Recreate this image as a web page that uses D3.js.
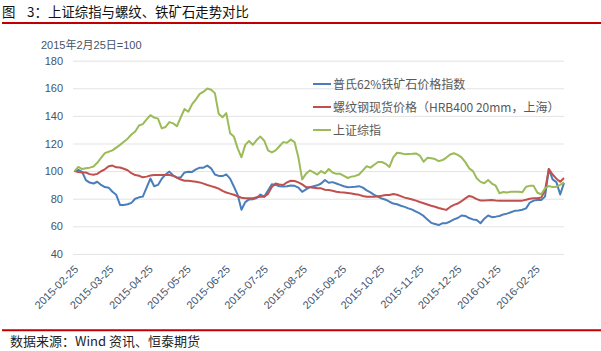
<!DOCTYPE html>
<html><head><meta charset="utf-8">
<script src="https://cdn.jsdelivr.net/npm/d3@7/dist/d3.min.js"></script>
<style>body{margin:0;background:#fff}svg{display:block}</style>
</head><body>
<svg id="c" width="601" height="351"></svg>
<script>
// ---- data ----
const dates = ["2015-02-25","2015-02-28","2015-03-03","2015-03-06","2015-03-09","2015-03-12","2015-03-15","2015-03-18","2015-03-21","2015-03-24","2015-03-27","2015-03-30","2015-04-02","2015-04-05","2015-04-08","2015-04-11","2015-04-14","2015-04-17","2015-04-20","2015-04-23","2015-04-26","2015-04-29","2015-05-02","2015-05-05","2015-05-08","2015-05-11","2015-05-14","2015-05-17","2015-05-20","2015-05-23","2015-05-26","2015-05-29","2015-06-01","2015-06-04","2015-06-07","2015-06-10","2015-06-13","2015-06-16","2015-06-19","2015-06-22","2015-06-25","2015-06-28","2015-07-01","2015-07-04","2015-07-07","2015-07-10","2015-07-13","2015-07-16","2015-07-19","2015-07-22","2015-07-25","2015-07-28","2015-07-31","2015-08-03","2015-08-06","2015-08-09","2015-08-12","2015-08-15","2015-08-18","2015-08-21","2015-08-24","2015-08-27","2015-08-30","2015-09-02","2015-09-05","2015-09-08","2015-09-11","2015-09-14","2015-09-17","2015-09-20","2015-09-23","2015-09-26","2015-09-29","2015-10-02","2015-10-05","2015-10-08","2015-10-11","2015-10-14","2015-10-17","2015-10-20","2015-10-23","2015-10-26","2015-10-29","2015-11-01","2015-11-04","2015-11-07","2015-11-10","2015-11-13","2015-11-16","2015-11-19","2015-11-22","2015-11-25","2015-11-28","2015-12-01","2015-12-04","2015-12-07","2015-12-10","2015-12-13","2015-12-16","2015-12-19","2015-12-22","2015-12-25","2015-12-28","2015-12-31","2016-01-03","2016-01-06","2016-01-09","2016-01-12","2016-01-15","2016-01-18","2016-01-21","2016-01-24","2016-01-27","2016-01-30","2016-02-02","2016-02-05","2016-02-08","2016-02-11","2016-02-14","2016-02-17","2016-02-20","2016-02-23","2016-02-26","2016-02-29","2016-03-03","2016-03-06","2016-03-09","2016-03-12","2016-03-15","2016-03-18"];

const ironOre = [100,100.8,99.5,93.5,91.7,91,92.3,90,88.4,88,85,82.8,75.5,75.5,76,77,80,81,81.5,88,
94.6,89,90,94.5,97.5,99.6,96.8,95.2,95.5,99,99.5,99.4,101.2,102.5,102.5,104,102,97.5,96.5,96.4,
97.6,94.5,88.8,82.8,72,77.5,79.5,79.6,80.5,83,81.5,86,90.5,90,89,88.9,89,89.6,89.3,88,
85,86.8,88.4,89,89.7,91,93.6,91.5,92,91,90,89,88.3,88.4,88.7,89.1,88,86,84.6,82.8,
81.3,80.1,79.3,77.8,76.5,76,74.9,74.1,73,72.1,70.7,69.3,67.5,65,62.5,61.7,60.9,62.3,62.3,63.5,
65,66,67.8,67.5,66,65,64.6,62.2,65.5,67.8,66.6,67,67.5,68.6,69.2,70.2,71.2,71.5,72,73,
77.2,78.6,79.1,79,81.5,101.5,94,92,83,91.5];

const rebar = [100,99.3,99,99,97.8,97.3,98,99.9,101.3,103.5,104,102.7,102.6,101.7,100.6,98.5,97.1,96.6,95.5,96,
96.8,97.2,97.2,97.2,97.2,97.2,96.7,95.2,93.9,93,93,92.7,92.3,91.8,90.9,89.9,89.1,88.3,87.3,85.7,
84.5,83.7,82.9,81.8,80.7,80.3,80.3,80.3,81,81.4,81.4,83.5,88.5,91,90.3,89.9,91.8,93,92.8,91.8,
90.4,88.4,88.3,87.9,87.5,87.5,86.5,86.3,85.8,85,84.6,84.5,84.1,83.7,83.3,82.8,82,81.4,81.4,81.4,
81.8,82.2,82.7,82.7,83.4,82.9,81.9,80.8,80.1,79.4,78.6,77.6,76.7,75.8,74.9,74.2,73.3,72.5,71.9,74,
75.5,76.5,78.2,80.2,82,81.2,79.7,78.7,78.7,78.9,79,78.7,78.6,78.6,78.6,78.6,78.6,78.6,78.6,79.2,
79.9,80.3,80.3,80.8,86,101.5,97.5,94.5,92.3,95];

const shIndex = [100,103,101.5,102,102.5,103.3,106,109.5,113,114,115,117,119,121.3,123.5,126.5,128.7,133,134,137.5,
140.5,138.8,138,131,132,135.5,134.6,132.5,139,145,143,148.5,152,156,157.5,159.8,159,156.5,141.5,139,
142,127.5,125,116.5,110,119,121.8,119,122.5,125,122,115,113.5,115,118,121,120.5,122.8,121,110,
94,98,100.5,99,97.5,100,98.4,101.5,99,98,98,96.5,95,96,96.5,97.5,100.5,103.5,102.5,104.6,
106.6,106.6,105.3,103,110,113.3,113,112.3,112.4,112.5,112.8,111.3,106.8,109.6,109.3,108.7,107.2,108,109.8,112,
112.9,111.8,110,106.5,102,100,94.8,92.2,91.2,93.5,91,89.4,84,84.8,84.5,85,85,85,84.6,88.7,
89.3,89.3,84.3,83.2,87.5,89.2,88.4,88.6,90,91.8];

const seriesNames = ["普氏62%铁矿石价格指数","螺纹钢现货价格（HRB400 20mm，上海）","上证综指"];
const seriesColors = ["#4a7ebb","#c0504d","#9bbb59"];
const yTicks = [40,60,80,100,120,140,160,180];
const xTickLabels = ["2015-02-25","2015-03-25","2015-04-25","2015-05-25","2015-06-25","2015-07-25","2015-08-25","2015-09-25","2015-10-25","2015-11-25","2015-12-25","2016-01-25","2016-02-25"];

// ---- drawing ----
const svg = d3.select("#c");
const parse = d3.timeParse("%Y-%m-%d");
const X0 = 74.5, X1 = 564, Y0 = 253.9, Y1 = 60.7;
const x = d3.scaleTime().domain([parse(dates[0]), parse(dates[dates.length-1])]).range([X0, X1]);
const y = d3.scaleLinear().domain([40,180]).range([Y0, Y1]);
const axisFont = '"Liberation Sans", Arial, "Noto Sans CJK SC", sans-serif';
const cjkFont = '"Noto Sans CJK SC", "Liberation Sans", sans-serif';
const axisColor = "#44546a";

// title
const t = svg.append("text").attr("y", 17).attr("font-family", cjkFont).attr("font-size", 13.4).attr("fill", "#111");
t.append("tspan").attr("x", 2).text("图");
t.append("tspan").attr("x", 27).text("3：");
t.append("tspan").attr("x", 48).text("上证综指与螺纹、铁矿石走势对比");
svg.append("line").attr("x1", 2).attr("x2", 601).attr("y1", 23).attr("y2", 23).attr("stroke", "#c00000").attr("stroke-width", 2);

// subtitle
svg.append("text").attr("x", 41).attr("y", 49).attr("font-family", axisFont).attr("font-size", 11).attr("fill", axisColor).text("2015年2月25日=100");

// y grid + labels
const yAxis = svg.append("g").attr("transform", `translate(73,0)`)
  .call(d3.axisLeft(y).tickValues(yTicks).tickSize(-(X1 - 73)).tickPadding(10).tickFormat(d3.format("d")));
yAxis.select(".domain").remove();
yAxis.selectAll("line").attr("stroke", "#e3e3e3").attr("stroke-width", 1);
yAxis.selectAll("text").attr("font-family", axisFont).attr("font-size", 11).attr("fill", axisColor);

// x labels
const xAxis = svg.append("g").attr("transform", `translate(0,${Y0})`)
  .call(d3.axisBottom(x).tickValues(xTickLabels.map(parse)).tickSize(0).tickFormat(d3.timeFormat("%Y-%m-%d")));
xAxis.select(".domain").remove();
xAxis.selectAll("text")
  .attr("font-family", axisFont).attr("font-size", 11).attr("fill", axisColor)
  .attr("text-anchor", "end").attr("dy", null).attr("y", 0)
  .attr("transform", "translate(4,16) rotate(-45)");

// lines
const series = [ironOre, rebar, shIndex];
const line = d3.line().x((d, i) => x(parse(dates[i]))).y(d => y(d));
series.forEach((s, k) => {
  svg.append("path").datum(s).attr("d", line).attr("fill", "none")
    .attr("stroke", seriesColors[k]).attr("stroke-width", 2).attr("stroke-linejoin", "round");
});

// legend
seriesNames.forEach((n, k) => {
  const ly = 84 + k * 23;
  svg.append("line").attr("x1", 313).attr("x2", 331).attr("y1", ly).attr("y2", ly)
    .attr("stroke", seriesColors[k]).attr("stroke-width", 2);
  svg.append("text").attr("x", 333).attr("y", ly + 4.5).attr("font-family", cjkFont)
    .attr("font-size", 12).attr("fill", "#595959").text(n);
});

// footer
svg.append("line").attr("x1", 2).attr("x2", 601).attr("y1", 330.3).attr("y2", 330.3).attr("stroke", "#c00000").attr("stroke-width", 2);
svg.append("text").attr("x", 10).attr("y", 346).attr("font-family", cjkFont).attr("font-size", 13).attr("fill", "#222").text("数据来源：Wind 资讯、恒泰期货");
</script>
</body></html>
